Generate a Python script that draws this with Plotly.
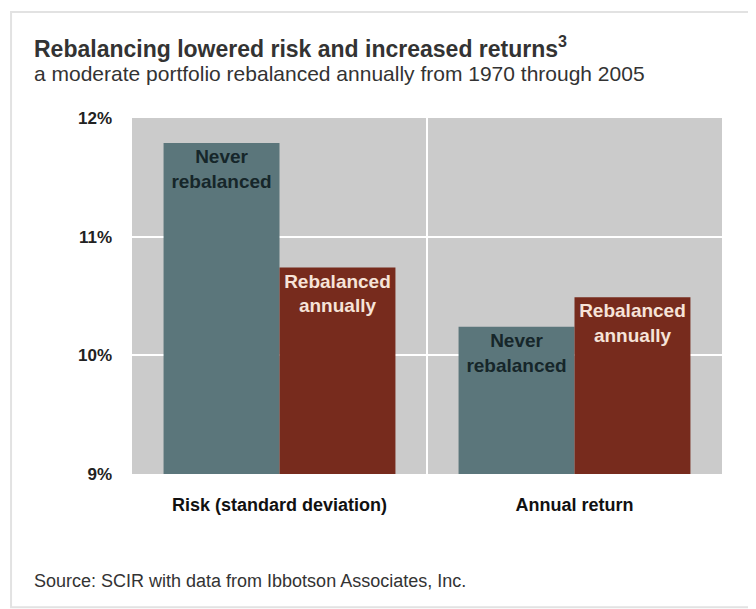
import plotly.graph_objects as go

categories = ["Risk (standard deviation)", "Annual return"]
never_rebalanced = [11.79, 10.24]
rebalanced_annually = [10.74, 10.49]
y_ticks = [9, 10, 11, 12]
y_tick_labels = ["9%", "10%", "11%", "12%"]
never_label = "Never<br>rebalanced"
rebal_label = "Rebalanced<br>annually"

title = "Rebalancing lowered risk and increased returns<sup>3</sup>"
subtitle = "a moderate portfolio rebalanced annually from 1970 through 2005"
source = "Source: SCIR with data from Ibbotson Associates, Inc."

FONT = "Liberation Sans, Arial, sans-serif"
bar_font = dict(family=FONT, size=19, weight="bold")

fig = go.Figure()
fig.add_trace(go.Bar(
    x=categories, y=[v - 9 for v in never_rebalanced], base=9,
    name="Never rebalanced",
    marker=dict(color="#5b767b", line=dict(width=0)),
    text=[never_label] * len(categories),
    textposition="inside", insidetextanchor="end",
    textfont=dict(color="#16262a", **bar_font),
    textangle=0, hoverinfo="skip",
))
fig.add_trace(go.Bar(
    x=categories, y=[v - 9 for v in rebalanced_annually], base=9,
    name="Rebalanced annually",
    marker=dict(color="#772b1d", line=dict(width=0)),
    text=[rebal_label] * len(categories),
    textposition="inside", insidetextanchor="end",
    textfont=dict(color="#f6e3d8", **bar_font),
    textangle=0, hoverinfo="skip",
))

fig.update_layout(
    width=748, height=601,
    margin=dict(l=124, r=34, t=110, b=135),
    paper_bgcolor="white", plot_bgcolor="#cbcbcb",
    barmode="group", bargap=0.214, bargroupgap=0,
    showlegend=False,
    uniformtext=dict(mode=False),
    font=dict(family=FONT, color="#222"),
    xaxis=dict(
        type="category", tickson="boundaries", showgrid=True,
        gridcolor="white", gridwidth=2, ticks="", showline=False,
        zeroline=False, ticklabelstandoff=18,
        tickfont=dict(size=18, color="#111", weight="bold"),
    ),
    yaxis=dict(
        range=[9, 12], tickvals=y_ticks, ticktext=y_tick_labels,
        showgrid=True, gridcolor="white", gridwidth=2, zeroline=False,
        showline=False, ticks="", ticklabelstandoff=19,
        tickfont=dict(size=17, color="#222", weight="bold"),
    ),
    shapes=[dict(
        type="rect", xref="paper", yref="paper", layer="below",
        x0=-0.205, x1=1.07, y0=-0.374, y1=1.298,
        line=dict(color="#e2e2e2", width=2),
    )],
    annotations=[
        dict(text=title, xref="paper", yref="paper", x=-0.1695, y=1.199,
             xanchor="left", yanchor="middle", showarrow=False,
             font=dict(size=23, color="#333", family=FONT, weight="bold")),
        dict(text=subtitle, xref="paper", yref="paper", x=-0.1695, y=1.126,
             xanchor="left", yanchor="middle", showarrow=False,
             font=dict(size=21, color="#333", family=FONT)),
        dict(text=source, xref="paper", yref="paper", x=-0.1695, y=-0.30,
             xanchor="left", yanchor="middle", showarrow=False,
             font=dict(size=18, color="#333", family=FONT)),
    ],
)

fig.write_html("out.html")
